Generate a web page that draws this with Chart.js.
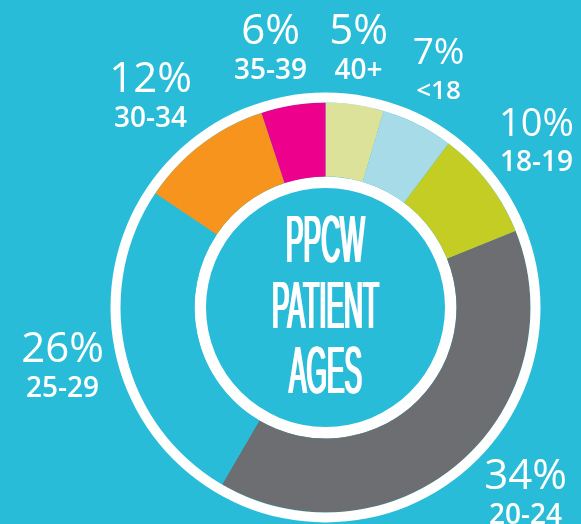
<!DOCTYPE html>
<html>
<head>
<meta charset="utf-8">
<title>PPCW patient ages</title>
<script src="https://cdn.jsdelivr.net/npm/chart.js@4.4.1/dist/chart.umd.min.js"></script>
<style>
  html, body { margin: 0; padding: 0; background: #29bcd9; overflow: hidden; }
  canvas { display: block; }
</style>
</head>
<body>
<canvas id="ages-chart" width="581" height="524"></canvas>
<script>
// ===== Data (clockwise from 12 o'clock) =====
const ageGroups = ["40+", "<18", "18-19", "20-24", "25-29", "30-34", "35-39"];
const sharePct = [5, 7, 10, 34, 26, 12, 6];
// slice sizes as drawn in the artwork, in degrees (the artwork isn't exactly proportional)
const arcDegrees = [16.5, 20.4, 31.2, 142.2, 93.6, 37.9, 18.2];
const sliceColors = ["#dde29a", "#a7dbe8", "#c3cd24", "#6d6e71", "#29bcd9", "#f7941d", "#ec008c"];
const centerTitle = ["PPCW", "PATIENT", "AGES"];

// ===== Label layout (relative to the doughnut centre) =====
const labelOffsets = [[33, -264], [113, -244], [211, -172], [200, 181], [-263, 54], [-175, -216], [-55, -264]];
const pctFontSizes = [42, 37, 38, 42, 42, 42, 42];
const rangeFontSizes = [28, 26, 28, 28, 28, 28, 28];
const titleBaselines = [-45.5, 20, 85.5];

const BG = "#29bcd9";

// ===== Plugins =====
const paintBackground = {
  id: "paintBackground",
  beforeDraw(chart) {
    const c = chart.ctx;
    c.save();
    c.fillStyle = BG;
    c.fillRect(0, 0, chart.width, chart.height);
    c.restore();
  }
};

const ageLabels = {
  id: "ageLabels",
  afterDraw(chart) {
    const arc = chart.getDatasetMeta(1).data[0];
    const cx = arc.x, cy = arc.y;
    const c = chart.ctx;
    c.save();
    c.fillStyle = "#fff";
    c.textAlign = "center";
    c.textBaseline = "alphabetic";

    ageGroups.forEach((group, i) => {
      const [dx, dy] = labelOffsets[i];
      c.font = `400 ${pctFontSizes[i]}px 'Open Sans', sans-serif`;
      c.fillText(sharePct[i] + "%", cx + dx, cy + dy);
      c.font = `600 ${rangeFontSizes[i]}px 'Open Sans', sans-serif`;
      c.fillText(group, cx + dx, cy + dy + 35);
    });

    // condensed title: squeeze a normal face, then fatten the stems sideways
    c.font = "66px 'Liberation Sans', Arial, sans-serif";
    const sx = 107 / c.measureText("PATIENT").width;
    centerTitle.forEach((line, k) => {
      c.save();
      c.translate(cx, cy + titleBaselines[k]);
      c.scale(sx, 1);
      for (let p = 0; p < 3; p++) c.fillText(line, (p - 1) / sx, 0);
      c.restore();
    });
    c.restore();
  }
};

// ===== Chart =====
const ctx = document.getElementById("ages-chart").getContext("2d");
new Chart(ctx, {
  type: "doughnut",
  data: {
    labels: ageGroups,
    datasets: [
      { data: [1], backgroundColor: "#ffffff", weight: 10 },          // outer white ring
      { data: arcDegrees, backgroundColor: sliceColors, weight: 74 },
      { data: [1], backgroundColor: "#ffffff", weight: 11.5 }         // inner white ring
    ]
  },
  options: {
    responsive: false,
    animation: false,
    events: [],
    cutout: 119.5,
    layout: { padding: { left: 110.5, right: 40.5, top: 92.5, bottom: 1.5 } },
    elements: { arc: { borderWidth: 0, hoverBorderWidth: 0, offset: 0, hoverOffset: 0 } },
    plugins: {
      legend: { display: false },
      tooltip: { enabled: false }
    }
  },
  plugins: [paintBackground, ageLabels]
});
</script>
</body>
</html>
